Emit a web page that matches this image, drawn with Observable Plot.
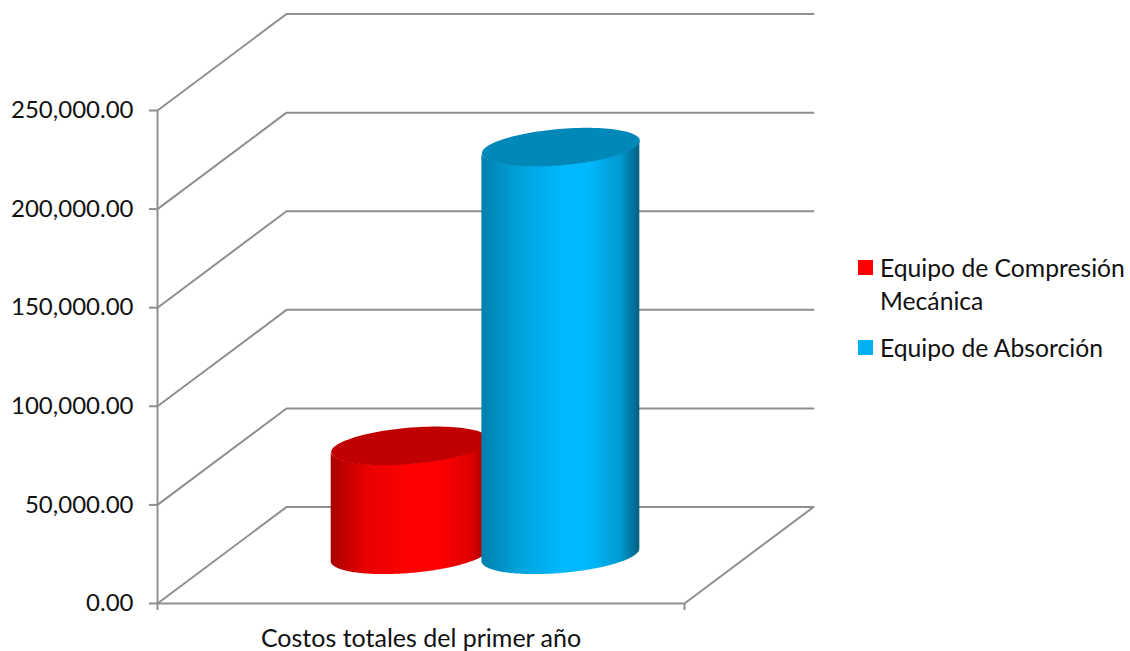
<!DOCTYPE html>
<html>
<head>
<meta charset="utf-8">
<script src="https://cdn.jsdelivr.net/npm/d3@7"></script>
<script src="https://cdn.jsdelivr.net/npm/@observablehq/plot@0.6"></script>
<style>
  html, body { margin: 0; background: #fff; }
  #chart { position: relative; width: 1130px; height: 651px; font-family: Lato, sans-serif; color: #111; }
  #legend { position: absolute; left: 858px; top: 251px; font-size: 24.7px; line-height: 33px; }
  .item { position: relative; padding-left: 22px; margin-bottom: 14px; width: 250px; }
  .swatch { position: absolute; left: 0; top: 9px; width: 15px; height: 15px; }
</style>
</head>
<body>
<div id="chart"></div>
<script>
const category = "Costos totales del primer año";
const series = ["Equipo de Compresión Mecánica", "Equipo de Absorción"];
const values = [55500, 207000];
const centers = [0.357, 0.643];
const bodyColors = [
  ["#a80000", "#e80000", "#ff0000", "#ff0000", "#e00000", "#a00000"],
  ["#007fab", "#00a0da", "#00b8fb", "#00b8fb", "#009ad0", "#005f80"]
];
const capColors = ["#c00000", "#0088b8"];
const swatchColors = ["#ff0000", "#00b0f0"];
const valueTicks = [0, 50000, 100000, 150000, 200000, 250000];

const gridColor = "#8f8f8f";
// Oblique projection: a step of one unit of depth moves right and up on the scales.
const depthX = 0.2448;
const depthValue = 48900;
const radiusX = 0.1416;
const radiusDepth = 0.2;

const project = (x, value, depth) => ({x: x + depth * depthX, y: value + depth * depthValue});

const wall = valueTicks.map((v) => [project(0, v, 0), project(0, v, 1), project(1, v, 1)]);
const floorEdge = [project(1, 0, 0), project(1, 0, 1)];

const rimPoint = (cx, value, t) =>
  project(cx + radiusX * Math.cos(t), value, 0.5 + radiusDepth * Math.sin(t));

// The silhouette turns at the angle where the projected rim is widest.
const turn = Math.atan2(radiusDepth * depthX, radiusX);
const steps = d3.range(0, 121).map((i) => i / 120);

function bodyOutline(cx, value) {
  return steps.map((s) => {
    const t = turn + Math.PI + s * Math.PI;
    const base = rimPoint(cx, 0, t);
    return {x: base.x, y1: base.y, y2: base.y + value};
  });
}

function capOutline(cx, value) {
  return steps.map((s) => rimPoint(cx, value, s * 2 * Math.PI));
}

// Horizontal shading for the curved side of each cylinder.
function gradients() {
  const svg = d3.create("svg:defs");
  const offsets = [0, 0.22, 0.5, 0.68, 0.88, 1];
  bodyColors.forEach((colors, i) => {
    const g = svg.append("linearGradient").attr("id", `body${i}`);
    colors.forEach((c, j) => g.append("stop").attr("offset", offsets[j]).attr("stop-color", c));
  });
  return svg.node();
}

const cylinderMarks = series.flatMap((name, i) => [
  Plot.areaY(bodyOutline(centers[i], values[i]), {x: "x", y1: "y1", y2: "y2", fill: `url(#body${i})`}),
  Plot.line(capOutline(centers[i], values[i]), {x: "x", y: "y", fill: capColors[i], stroke: "none"})
]);

const plot = Plot.plot({
  width: 1130,
  height: 651,
  marginLeft: 157,
  marginRight: 446,
  marginTop: 110,
  marginBottom: 48,
  style: {fontFamily: "Lato, sans-serif", background: "transparent", color: "#111", overflow: "visible"},
  x: {domain: [0, 1]},
  y: {domain: [0, 250000]},
  marks: [
    gradients,
    ...wall.map((pts) => Plot.line(pts, {x: "x", y: "y", stroke: gridColor, strokeWidth: 2})),
    Plot.line(floorEdge, {x: "x", y: "y", stroke: gridColor, strokeWidth: 2}),
    Plot.ruleX([0], {y1: 0, y2: 250000, stroke: gridColor, strokeWidth: 2}),
    Plot.ruleY([0], {x1: 0, x2: 1, stroke: gridColor, strokeWidth: 2}),
    Plot.axisY({
      ticks: valueTicks,
      tickFormat: d3.format(",.2f"),
      tickSize: 8,
      tickPadding: 16,
      fontSize: 24,
      stroke: gridColor,
      strokeWidth: 2,
      label: null
    }),
    Plot.axisX({ticks: [0, 1], tickFormat: () => "", tickSize: 7, stroke: gridColor, strokeWidth: 2, label: null}),
    ...cylinderMarks,
    Plot.text([category], {x: () => 0.5, y: () => 0, dy: 35, fontSize: 25, fill: "#111"})
  ]
});

const chart = document.getElementById("chart");
chart.append(plot);

const legend = d3.select(chart).append("div").attr("id", "legend");
series.forEach((name, i) => {
  const item = legend.append("div").attr("class", "item");
  item.append("span").attr("class", "swatch").style("background", swatchColors[i]);
  item.append("span").text(name);
});
</script>
</body>
</html>
